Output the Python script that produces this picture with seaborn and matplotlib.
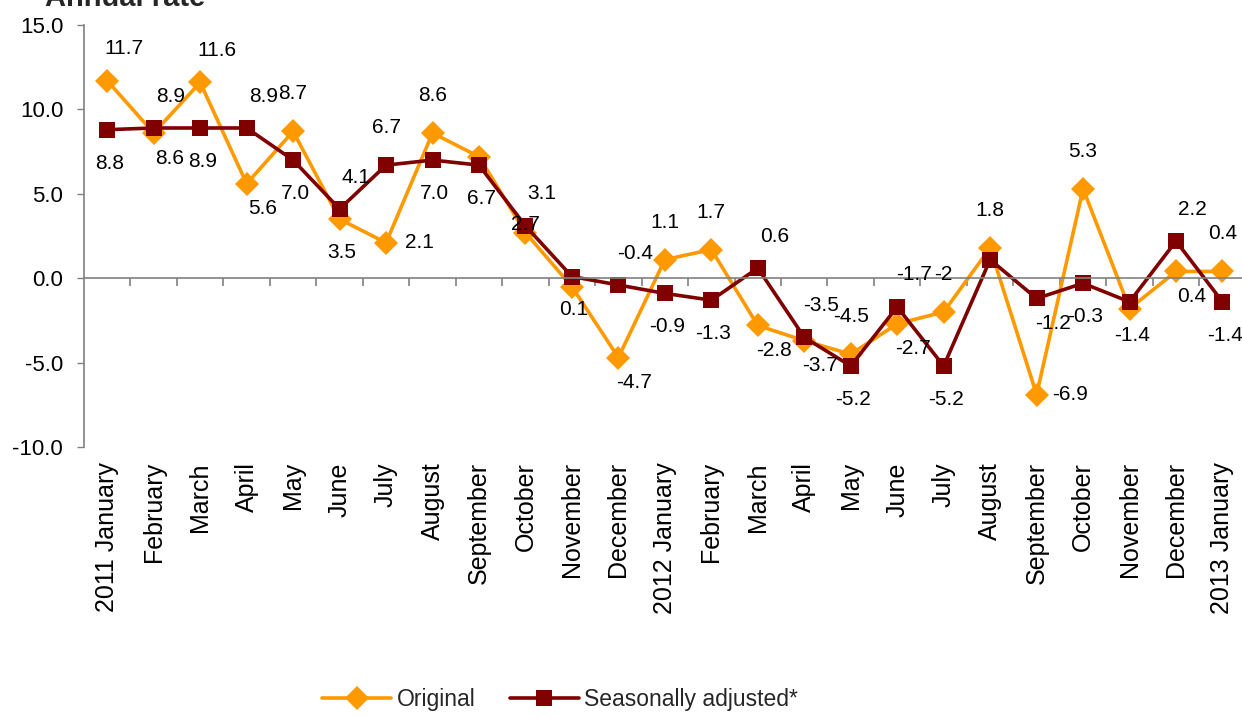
import numpy as np
import pandas as pd
import matplotlib
matplotlib.use("Agg")
import matplotlib.pyplot as plt
import seaborn as sns

# data
months = ["2011 January", "February", "March", "April", "May", "June", "July",
          "August", "September", "October", "November", "December",
          "2012 January", "February", "March", "April", "May", "June", "July",
          "August", "September", "October", "November", "December",
          "2013 January"]
original = [11.7, 8.6, 11.6, 5.6, 8.7, 3.5, 2.1, 8.6, 7.2, 2.7, -0.5, -4.7,
            1.1, 1.7, -2.8, -3.7, -4.5, -2.7, -2.0, 1.8, -6.9, 5.3, -1.8, 0.4, 0.4]
seasonal = [8.8, 8.9, 8.9, 8.9, 7.0, 4.1, 6.7, 7.0, 6.7, 3.1, 0.1, -0.4,
            -0.9, -1.3, 0.6, -3.5, -5.2, -1.7, -5.2, 1.1, -1.2, -0.3, -1.4, 2.2, -1.4]
original_labels = ["11.7", "8.6", "11.6", "5.6", "8.7", "3.5", "2.1", "8.6", None, "2.7", None, "-4.7",
                   "1.1", "1.7", "-2.8", "-3.7", "-4.5", "-2.7", "-2", "1.8", "-6.9", "5.3", None, "0.4", "0.4"]
seasonal_labels = ["8.8", "8.9", "8.9", "8.9", "7.0", "4.1", "6.7", "7.0", "6.7", "3.1", "0.1", "-0.4",
                   "-0.9", "-1.3", "0.6", "-3.5", "-5.2", "-1.7", "-5.2", None, "-1.2", "-0.3", "-1.4", "2.2", "-1.4"]
series_names = ["Original", "Seasonally adjusted*"]

# where each value label sits relative to its marker
original_place = ["ar", "br", "ar", "br", "a", "b", "r", "a", "a", "c", "b", "br",
                  "a", "a", "br", "br", "a", "br", "a", "a", "r", "a", "b", "br", "a"]
seasonal_place = ["b", "ar", "b", "ar", "b", "ar", "a", "b", "b", "ar", "b", "ar",
                  "b", "b", "ar", "ar", "b", "ar", "b", "a", "br", "b", "b", "ar", "b"]
offsets = {"a": (0, 27), "b": (1.5, -24), "ar": (12, 23), "br": (11.5, -18),
           "r": (24, 0), "c": (0, 6)}

df = pd.DataFrame({
    "pos": list(range(len(months))) * 2,
    "value": original + seasonal,
    "series": [series_names[0]] * len(months) + [series_names[1]] * len(months),
})

sns.set_theme(style="white")
plt.rcParams["font.family"] = ["Liberation Sans", "DejaVu Sans"]

colors = {"Original": "#FF9900", "Seasonally adjusted*": "#800000"}
markers = {"Original": "D", "Seasonally adjusted*": "s"}

fig = plt.figure(figsize=(12.42, 7.15), dpi=100)
ax = fig.add_axes([84 / 1242, 0.3748, (1242 - 84) / 1242, 0.5902])

for name, size in zip(series_names, [12, 11.5]):
    sub = df[df["series"] == name]
    sns.lineplot(data=sub, x="pos", y="value", ax=ax, color=colors[name],
                 marker=markers[name], markersize=size, markeredgewidth=0,
                 linewidth=2.6, label=name)

# value labels
for vals, labs, place in [(original, original_labels, original_place),
                          (seasonal, seasonal_labels, seasonal_place)]:
    for i, (v, t, p) in enumerate(zip(vals, labs, place)):
        if t is None:
            continue
        ax.annotate(t, xy=(i, v), xytext=offsets[p], textcoords="offset points",
                    ha="center", va="center", fontsize=15, color="black",
                    annotation_clip=False)

ax.set_xlim(-0.5, 24.42)
ax.set_ylim(-10, 15)
ax.set_yticks(np.arange(-10, 16, 5))
ax.set_yticklabels([f"{v:.1f}" for v in np.arange(-10, 16, 5)], fontsize=16)
ax.tick_params(axis="y", direction="out", length=5, width=1, color="#808080",
               pad=10, left=True, labelcolor="black")
ax.set_xlabel("")
ax.set_ylabel("")

# category axis drawn at zero with ticks between categories
for s in ["top", "right"]:
    ax.spines[s].set_visible(False)
ax.spines["left"].set_color("#808080")
ax.spines["left"].set_linewidth(1.2)
ax.spines["bottom"].set_position(("data", 0))
ax.spines["bottom"].set_color("#808080")
ax.spines["bottom"].set_linewidth(1.2)
ax.set_xticks([])
ax.set_xticks(np.arange(0.5, 24, 1), minor=True)
ax.tick_params(axis="x", which="minor", direction="out", length=6, width=1.2,
               color="#808080", bottom=True, labelbottom=False)

for i, m in enumerate(months):
    ax.text(i, -0.036, m, transform=ax.get_xaxis_transform(), rotation=90,
            ha="center", va="top", fontsize=18, color="black")

handles, labels = ax.get_legend_handles_labels()
ax.legend(handles, labels, loc="center", bbox_to_anchor=(0.451, 0.021),
          bbox_transform=fig.transFigure, ncol=2, frameon=False, fontsize=16.5,
          handlelength=3.0, handletextpad=0.25, columnspacing=1.5)

fig.text(45 / 1242, (715 - 6) / 715, "Annual rate", fontsize=21,
         fontweight="bold", va="baseline", ha="left")

fig.savefig("out.png", dpi=100)
plt.close(fig)
